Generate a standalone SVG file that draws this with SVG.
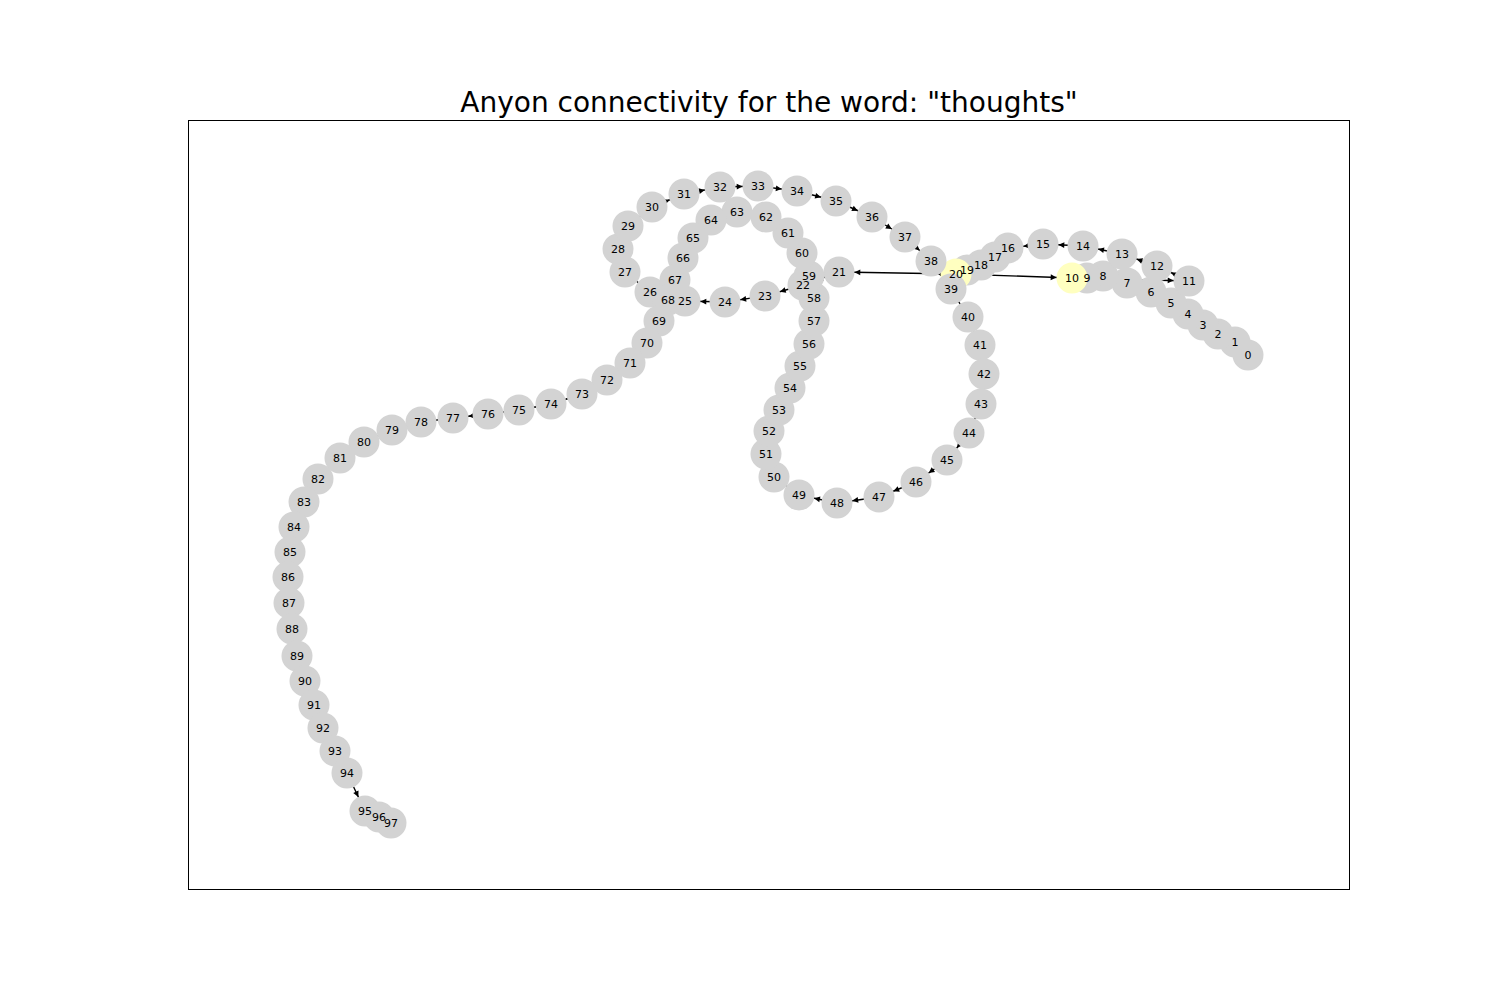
<svg xmlns="http://www.w3.org/2000/svg" width="1500" height="1000" viewBox="0 0 1500 1000">
<style>
.n{fill:#d3d3d3}
.y{fill:#ffffc0}
.e{stroke:#000;stroke-width:1.4;fill:none;marker-end:url(#ah)}
text{font-family:"DejaVu Sans","Liberation Sans",sans-serif;fill:#000}
.l{font-size:11px;text-anchor:middle;dominant-baseline:central}
.t{font-size:28px;text-anchor:middle}
</style>
<defs>
<marker id="ah" markerUnits="userSpaceOnUse" markerWidth="20" markerHeight="20" refX="15.5" refY="0" orient="auto" overflow="visible">
<path d="M0,0 L-5.8,-2.9 L-5.8,2.9 Z" fill="#000"/>
</marker>
</defs>
<rect width="1500" height="1000" fill="#fff"/>
<text class="t" x="769" y="112">Anyon connectivity for the word: "thoughts"</text>
<rect x="188.5" y="120.5" width="1161" height="769" fill="none" stroke="#000" stroke-width="1"/>
<g id="edges">
<polyline class="e" points="1248,355 1235,342"/>
<polyline class="e" points="1235,342 1218,334"/>
<polyline class="e" points="1218,334 1203,325"/>
<polyline class="e" points="1203,325 1188,314"/>
<polyline class="e" points="1188,314 1171,303"/>
<polyline class="e" points="1171,303 1151,292"/>
<polyline class="e" points="1151,292 1127,283"/>
<polyline class="e" points="1127,283 1103,276"/>
<polyline class="e" points="1103,276 1087,278"/>
<polyline class="e" points="1087,278 1072,278"/>
<polyline class="e" points="1072,278 1189,281"/>
<polyline class="e" points="1189,281 1157,266"/>
<polyline class="e" points="1157,266 1122,254"/>
<polyline class="e" points="1122,254 1083,246"/>
<polyline class="e" points="1083,246 1043,244"/>
<polyline class="e" points="1043,244 1008,248"/>
<polyline class="e" points="1008,248 995,257"/>
<polyline class="e" points="995,257 981,265"/>
<polyline class="e" points="981,265 967,270"/>
<polyline class="e" points="967,270 956,274"/>
<polyline class="e" points="956,274 839,272"/>
<polyline class="e" points="956,274 1072,278"/>
<polyline class="e" points="839,272 803,285"/>
<polyline class="e" points="803,285 765,296"/>
<polyline class="e" points="765,296 725,302"/>
<polyline class="e" points="725,302 685,301"/>
<polyline class="e" points="685,301 650,292"/>
<polyline class="e" points="650,292 625,272"/>
<polyline class="e" points="625,272 618,249"/>
<polyline class="e" points="618,249 628,226"/>
<polyline class="e" points="628,226 652,207"/>
<polyline class="e" points="652,207 684,194"/>
<polyline class="e" points="684,194 720,187"/>
<polyline class="e" points="720,187 758,186"/>
<polyline class="e" points="758,186 797,191"/>
<polyline class="e" points="797,191 836,201"/>
<polyline class="e" points="836,201 872,217"/>
<polyline class="e" points="872,217 905,237"/>
<polyline class="e" points="905,237 931,261"/>
<polyline class="e" points="931,261 951,289"/>
<polyline class="e" points="951,289 968,317"/>
<polyline class="e" points="968,317 980,345"/>
<polyline class="e" points="980,345 984,374"/>
<polyline class="e" points="984,374 981,404"/>
<polyline class="e" points="981,404 969,433"/>
<polyline class="e" points="969,433 947,460"/>
<polyline class="e" points="947,460 916,482"/>
<polyline class="e" points="916,482 879,497"/>
<polyline class="e" points="879,497 837,503"/>
<polyline class="e" points="837,503 799,495"/>
<polyline class="e" points="799,495 774,477"/>
<polyline class="e" points="774,477 766,454"/>
<polyline class="e" points="766,454 769,431"/>
<polyline class="e" points="769,431 779,410"/>
<polyline class="e" points="779,410 790,388"/>
<polyline class="e" points="790,388 800,366"/>
<polyline class="e" points="800,366 809,344"/>
<polyline class="e" points="809,344 814,321"/>
<polyline class="e" points="814,321 814,298"/>
<polyline class="e" points="814,298 809,276"/>
<polyline class="e" points="809,276 802,253"/>
<polyline class="e" points="802,253 788,233"/>
<polyline class="e" points="788,233 766,217"/>
<polyline class="e" points="766,217 737,212"/>
<polyline class="e" points="737,212 711,220"/>
<polyline class="e" points="711,220 693,238"/>
<polyline class="e" points="693,238 683,258"/>
<polyline class="e" points="683,258 675,280"/>
<polyline class="e" points="675,280 668,300"/>
<polyline class="e" points="668,300 659,321"/>
<polyline class="e" points="659,321 647,343"/>
<polyline class="e" points="647,343 630,363"/>
<polyline class="e" points="630,363 607,380"/>
<polyline class="e" points="607,380 582,394"/>
<polyline class="e" points="582,394 551,404"/>
<polyline class="e" points="551,404 519,410"/>
<polyline class="e" points="519,410 488,414"/>
<polyline class="e" points="488,414 453,418"/>
<polyline class="e" points="453,418 421,422"/>
<polyline class="e" points="421,422 392,430"/>
<polyline class="e" points="392,430 364,442"/>
<polyline class="e" points="364,442 340,458"/>
<polyline class="e" points="340,458 318,479"/>
<polyline class="e" points="318,479 304,502"/>
<polyline class="e" points="304,502 294,527"/>
<polyline class="e" points="294,527 290,552"/>
<polyline class="e" points="290,552 288,577"/>
<polyline class="e" points="288,577 289,603"/>
<polyline class="e" points="289,603 292,629"/>
<polyline class="e" points="292,629 297,656"/>
<polyline class="e" points="297,656 305,681"/>
<polyline class="e" points="305,681 314,705"/>
<polyline class="e" points="314,705 323,728"/>
<polyline class="e" points="323,728 335,751"/>
<polyline class="e" points="335,751 347,773"/>
<polyline class="e" points="347,773 365,811"/>
<polyline class="e" points="365,811 379,817"/>
<polyline class="e" points="379,817 391,823"/>
</g>
<g id="nodes">
<g id="n0"><circle class="n" cx="1248" cy="355" r="15.5"/></g>
<g id="n1"><circle class="n" cx="1235" cy="342" r="15.5"/></g>
<g id="n2"><circle class="n" cx="1218" cy="334" r="15.5"/></g>
<g id="n3"><circle class="n" cx="1203" cy="325" r="15.5"/></g>
<g id="n4"><circle class="n" cx="1188" cy="314" r="15.5"/></g>
<g id="n5"><circle class="n" cx="1171" cy="303" r="15.5"/></g>
<g id="n6"><circle class="n" cx="1151" cy="292" r="15.5"/></g>
<g id="n7"><circle class="n" cx="1127" cy="283" r="15.5"/></g>
<g id="n8"><circle class="n" cx="1103" cy="276" r="15.5"/></g>
<g id="n9"><circle class="n" cx="1087" cy="278" r="15.5"/></g>
<g id="n10"><circle class="y" cx="1072" cy="278" r="15.5"/></g>
<g id="n11"><circle class="n" cx="1189" cy="281" r="15.5"/></g>
<g id="n12"><circle class="n" cx="1157" cy="266" r="15.5"/></g>
<g id="n13"><circle class="n" cx="1122" cy="254" r="15.5"/></g>
<g id="n14"><circle class="n" cx="1083" cy="246" r="15.5"/></g>
<g id="n15"><circle class="n" cx="1043" cy="244" r="15.5"/></g>
<g id="n16"><circle class="n" cx="1008" cy="248" r="15.5"/></g>
<g id="n17"><circle class="n" cx="995" cy="257" r="15.5"/></g>
<g id="n18"><circle class="n" cx="981" cy="265" r="15.5"/></g>
<g id="n19"><circle class="n" cx="967" cy="270" r="15.5"/></g>
<g id="n20"><circle class="y" cx="956" cy="274" r="15.5"/></g>
<g id="n21"><circle class="n" cx="839" cy="272" r="15.5"/></g>
<g id="n22"><circle class="n" cx="803" cy="285" r="15.5"/></g>
<g id="n23"><circle class="n" cx="765" cy="296" r="15.5"/></g>
<g id="n24"><circle class="n" cx="725" cy="302" r="15.5"/></g>
<g id="n25"><circle class="n" cx="685" cy="301" r="15.5"/></g>
<g id="n26"><circle class="n" cx="650" cy="292" r="15.5"/></g>
<g id="n27"><circle class="n" cx="625" cy="272" r="15.5"/></g>
<g id="n28"><circle class="n" cx="618" cy="249" r="15.5"/></g>
<g id="n29"><circle class="n" cx="628" cy="226" r="15.5"/></g>
<g id="n30"><circle class="n" cx="652" cy="207" r="15.5"/></g>
<g id="n31"><circle class="n" cx="684" cy="194" r="15.5"/></g>
<g id="n32"><circle class="n" cx="720" cy="187" r="15.5"/></g>
<g id="n33"><circle class="n" cx="758" cy="186" r="15.5"/></g>
<g id="n34"><circle class="n" cx="797" cy="191" r="15.5"/></g>
<g id="n35"><circle class="n" cx="836" cy="201" r="15.5"/></g>
<g id="n36"><circle class="n" cx="872" cy="217" r="15.5"/></g>
<g id="n37"><circle class="n" cx="905" cy="237" r="15.5"/></g>
<g id="n38"><circle class="n" cx="931" cy="261" r="15.5"/></g>
<g id="n39"><circle class="n" cx="951" cy="289" r="15.5"/></g>
<g id="n40"><circle class="n" cx="968" cy="317" r="15.5"/></g>
<g id="n41"><circle class="n" cx="980" cy="345" r="15.5"/></g>
<g id="n42"><circle class="n" cx="984" cy="374" r="15.5"/></g>
<g id="n43"><circle class="n" cx="981" cy="404" r="15.5"/></g>
<g id="n44"><circle class="n" cx="969" cy="433" r="15.5"/></g>
<g id="n45"><circle class="n" cx="947" cy="460" r="15.5"/></g>
<g id="n46"><circle class="n" cx="916" cy="482" r="15.5"/></g>
<g id="n47"><circle class="n" cx="879" cy="497" r="15.5"/></g>
<g id="n48"><circle class="n" cx="837" cy="503" r="15.5"/></g>
<g id="n49"><circle class="n" cx="799" cy="495" r="15.5"/></g>
<g id="n50"><circle class="n" cx="774" cy="477" r="15.5"/></g>
<g id="n51"><circle class="n" cx="766" cy="454" r="15.5"/></g>
<g id="n52"><circle class="n" cx="769" cy="431" r="15.5"/></g>
<g id="n53"><circle class="n" cx="779" cy="410" r="15.5"/></g>
<g id="n54"><circle class="n" cx="790" cy="388" r="15.5"/></g>
<g id="n55"><circle class="n" cx="800" cy="366" r="15.5"/></g>
<g id="n56"><circle class="n" cx="809" cy="344" r="15.5"/></g>
<g id="n57"><circle class="n" cx="814" cy="321" r="15.5"/></g>
<g id="n58"><circle class="n" cx="814" cy="298" r="15.5"/></g>
<g id="n59"><circle class="n" cx="809" cy="276" r="15.5"/></g>
<g id="n60"><circle class="n" cx="802" cy="253" r="15.5"/></g>
<g id="n61"><circle class="n" cx="788" cy="233" r="15.5"/></g>
<g id="n62"><circle class="n" cx="766" cy="217" r="15.5"/></g>
<g id="n63"><circle class="n" cx="737" cy="212" r="15.5"/></g>
<g id="n64"><circle class="n" cx="711" cy="220" r="15.5"/></g>
<g id="n65"><circle class="n" cx="693" cy="238" r="15.5"/></g>
<g id="n66"><circle class="n" cx="683" cy="258" r="15.5"/></g>
<g id="n67"><circle class="n" cx="675" cy="280" r="15.5"/></g>
<g id="n68"><circle class="n" cx="668" cy="300" r="15.5"/></g>
<g id="n69"><circle class="n" cx="659" cy="321" r="15.5"/></g>
<g id="n70"><circle class="n" cx="647" cy="343" r="15.5"/></g>
<g id="n71"><circle class="n" cx="630" cy="363" r="15.5"/></g>
<g id="n72"><circle class="n" cx="607" cy="380" r="15.5"/></g>
<g id="n73"><circle class="n" cx="582" cy="394" r="15.5"/></g>
<g id="n74"><circle class="n" cx="551" cy="404" r="15.5"/></g>
<g id="n75"><circle class="n" cx="519" cy="410" r="15.5"/></g>
<g id="n76"><circle class="n" cx="488" cy="414" r="15.5"/></g>
<g id="n77"><circle class="n" cx="453" cy="418" r="15.5"/></g>
<g id="n78"><circle class="n" cx="421" cy="422" r="15.5"/></g>
<g id="n79"><circle class="n" cx="392" cy="430" r="15.5"/></g>
<g id="n80"><circle class="n" cx="364" cy="442" r="15.5"/></g>
<g id="n81"><circle class="n" cx="340" cy="458" r="15.5"/></g>
<g id="n82"><circle class="n" cx="318" cy="479" r="15.5"/></g>
<g id="n83"><circle class="n" cx="304" cy="502" r="15.5"/></g>
<g id="n84"><circle class="n" cx="294" cy="527" r="15.5"/></g>
<g id="n85"><circle class="n" cx="290" cy="552" r="15.5"/></g>
<g id="n86"><circle class="n" cx="288" cy="577" r="15.5"/></g>
<g id="n87"><circle class="n" cx="289" cy="603" r="15.5"/></g>
<g id="n88"><circle class="n" cx="292" cy="629" r="15.5"/></g>
<g id="n89"><circle class="n" cx="297" cy="656" r="15.5"/></g>
<g id="n90"><circle class="n" cx="305" cy="681" r="15.5"/></g>
<g id="n91"><circle class="n" cx="314" cy="705" r="15.5"/></g>
<g id="n92"><circle class="n" cx="323" cy="728" r="15.5"/></g>
<g id="n93"><circle class="n" cx="335" cy="751" r="15.5"/></g>
<g id="n94"><circle class="n" cx="347" cy="773" r="15.5"/></g>
<g id="n95"><circle class="n" cx="365" cy="811" r="15.5"/></g>
<g id="n96"><circle class="n" cx="379" cy="817" r="15.5"/></g>
<g id="n97"><circle class="n" cx="391" cy="823" r="15.5"/></g>
</g>
<g id="labels">
<text class="l" x="1248" y="355">0</text>
<text class="l" x="1235" y="342">1</text>
<text class="l" x="1218" y="334">2</text>
<text class="l" x="1203" y="325">3</text>
<text class="l" x="1188" y="314">4</text>
<text class="l" x="1171" y="303">5</text>
<text class="l" x="1151" y="292">6</text>
<text class="l" x="1127" y="283">7</text>
<text class="l" x="1103" y="276">8</text>
<text class="l" x="1087" y="278">9</text>
<text class="l" x="1072" y="278">10</text>
<text class="l" x="1189" y="281">11</text>
<text class="l" x="1157" y="266">12</text>
<text class="l" x="1122" y="254">13</text>
<text class="l" x="1083" y="246">14</text>
<text class="l" x="1043" y="244">15</text>
<text class="l" x="1008" y="248">16</text>
<text class="l" x="995" y="257">17</text>
<text class="l" x="981" y="265">18</text>
<text class="l" x="967" y="270">19</text>
<text class="l" x="956" y="274">20</text>
<text class="l" x="839" y="272">21</text>
<text class="l" x="803" y="285">22</text>
<text class="l" x="765" y="296">23</text>
<text class="l" x="725" y="302">24</text>
<text class="l" x="685" y="301">25</text>
<text class="l" x="650" y="292">26</text>
<text class="l" x="625" y="272">27</text>
<text class="l" x="618" y="249">28</text>
<text class="l" x="628" y="226">29</text>
<text class="l" x="652" y="207">30</text>
<text class="l" x="684" y="194">31</text>
<text class="l" x="720" y="187">32</text>
<text class="l" x="758" y="186">33</text>
<text class="l" x="797" y="191">34</text>
<text class="l" x="836" y="201">35</text>
<text class="l" x="872" y="217">36</text>
<text class="l" x="905" y="237">37</text>
<text class="l" x="931" y="261">38</text>
<text class="l" x="951" y="289">39</text>
<text class="l" x="968" y="317">40</text>
<text class="l" x="980" y="345">41</text>
<text class="l" x="984" y="374">42</text>
<text class="l" x="981" y="404">43</text>
<text class="l" x="969" y="433">44</text>
<text class="l" x="947" y="460">45</text>
<text class="l" x="916" y="482">46</text>
<text class="l" x="879" y="497">47</text>
<text class="l" x="837" y="503">48</text>
<text class="l" x="799" y="495">49</text>
<text class="l" x="774" y="477">50</text>
<text class="l" x="766" y="454">51</text>
<text class="l" x="769" y="431">52</text>
<text class="l" x="779" y="410">53</text>
<text class="l" x="790" y="388">54</text>
<text class="l" x="800" y="366">55</text>
<text class="l" x="809" y="344">56</text>
<text class="l" x="814" y="321">57</text>
<text class="l" x="814" y="298">58</text>
<text class="l" x="809" y="276">59</text>
<text class="l" x="802" y="253">60</text>
<text class="l" x="788" y="233">61</text>
<text class="l" x="766" y="217">62</text>
<text class="l" x="737" y="212">63</text>
<text class="l" x="711" y="220">64</text>
<text class="l" x="693" y="238">65</text>
<text class="l" x="683" y="258">66</text>
<text class="l" x="675" y="280">67</text>
<text class="l" x="668" y="300">68</text>
<text class="l" x="659" y="321">69</text>
<text class="l" x="647" y="343">70</text>
<text class="l" x="630" y="363">71</text>
<text class="l" x="607" y="380">72</text>
<text class="l" x="582" y="394">73</text>
<text class="l" x="551" y="404">74</text>
<text class="l" x="519" y="410">75</text>
<text class="l" x="488" y="414">76</text>
<text class="l" x="453" y="418">77</text>
<text class="l" x="421" y="422">78</text>
<text class="l" x="392" y="430">79</text>
<text class="l" x="364" y="442">80</text>
<text class="l" x="340" y="458">81</text>
<text class="l" x="318" y="479">82</text>
<text class="l" x="304" y="502">83</text>
<text class="l" x="294" y="527">84</text>
<text class="l" x="290" y="552">85</text>
<text class="l" x="288" y="577">86</text>
<text class="l" x="289" y="603">87</text>
<text class="l" x="292" y="629">88</text>
<text class="l" x="297" y="656">89</text>
<text class="l" x="305" y="681">90</text>
<text class="l" x="314" y="705">91</text>
<text class="l" x="323" y="728">92</text>
<text class="l" x="335" y="751">93</text>
<text class="l" x="347" y="773">94</text>
<text class="l" x="365" y="811">95</text>
<text class="l" x="379" y="817">96</text>
<text class="l" x="391" y="823">97</text>
</g>
</svg>
